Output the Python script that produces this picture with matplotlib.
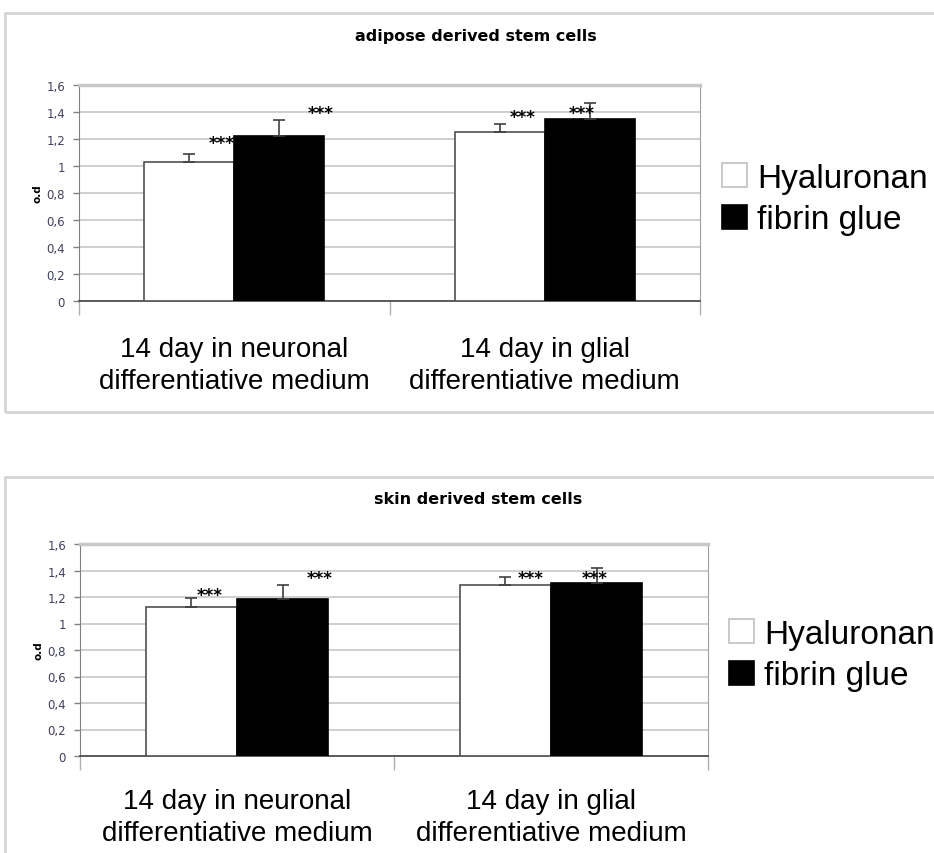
#!/usr/bin/env python3
# -*- coding: utf-8 -*-

import numpy as np
from matplotlib import pyplot as plt
from matplotlib.patches import Rectangle

"""
Optical density of stem cells grown on hyaluronan and fibrin glue scaffolds
"""

CATEGORIES = ["14 day in neuronal\ndifferentiative medium",
              "14 day in glial\ndifferentiative medium"]
SERIES = ["Hyaluronan", "fibrin glue"]
YTICKS = [0, 0.2, 0.4, 0.6, 0.8, 1, 1.2, 1.4, 1.6]
YTICK_LABELS = ["0", "0,2", "0,4", "0,6", "0,8", "1", "1,2", "1,4", "1,6"]

# adipose derived stem cells
adipose_hya = [1.03, 1.25]
adipose_hya_err = [0.06, 0.06]
adipose_fib = [1.225, 1.345]
adipose_fib_err = [0.115, 0.125]
# significance labels (x, y) in data units
adipose_stars = [(-0.04, 1.17), (0.277, 1.39), (0.93, 1.365), (1.12, 1.39)]

# skin derived stem cells
skin_hya = [1.125, 1.29]
skin_hya_err = [0.065, 0.06]
skin_fib = [1.185, 1.305]
skin_fib_err = [0.105, 0.115]
skin_stars = [(-0.086, 1.215), (0.264, 1.34), (0.936, 1.34), (1.14, 1.34)]

FONT = ["Liberation Sans", "DejaVu Sans"]
W, H = 934, 854


def frac(x0, y0, x1, y1):
    """pixel box (top-left origin) -> figure fraction rect"""
    return [x0 / W, 1 - y1 / H, (x1 - x0) / W, (y1 - y0) / H]


def panel(fig, rect, title, title_xy, hya, hya_err, fib, fib_err, stars, legend_xy, pad):
    ax = fig.add_axes(rect)
    x = np.arange(len(CATEGORIES))
    width = 0.29

    ax.bar(x - width / 2, hya, width, color="white", edgecolor="#505050",
           linewidth=1.2, label=SERIES[0], zorder=3)
    ax.bar(x + width / 2, fib, width, color="black", edgecolor="black",
           linewidth=1.2, label=SERIES[1], zorder=3)
    ax.errorbar(x - width / 2, hya, yerr=[np.zeros(len(hya)), hya_err],
                fmt="none", ecolor="#404040", elinewidth=1.2, capsize=4, capthick=1.2, zorder=4)
    ax.errorbar(x + width / 2, fib, yerr=[np.zeros(len(fib)), fib_err],
                fmt="none", ecolor="#404040", elinewidth=1.2, capsize=4, capthick=1.2, zorder=4)

    for sx, sy in stars:
        ax.text(sx, sy, "***", ha="center", va="center", fontsize=12,
                fontweight="bold", family="DejaVu Sans", zorder=5)

    ax.set_xlim(-0.5, len(CATEGORIES) - 0.5)
    ax.set_ylim(0, 1.6)
    ax.set_yticks(YTICKS)
    ax.set_yticklabels(YTICK_LABELS, fontsize=8.5, color="#404060", family="DejaVu Sans")
    ax.tick_params(axis="y", length=4, width=1, color="#808080", pad=6)
    ax.yaxis.grid(True, color="#cccccc", linewidth=1.3, zorder=0)
    ax.set_axisbelow(True)

    ax.set_xticks(x)
    ax.set_xticklabels(CATEGORIES, fontsize=20, family=FONT, linespacing=1.3)
    ax.tick_params(axis="x", which="major", length=0, pad=pad)
    ax.set_xticks(np.arange(-0.5, len(CATEGORIES)), minor=True)
    ax.tick_params(axis="x", which="minor", length=10, width=1, color="#b0b0b0")

    ax.spines["top"].set_color("#c8c8c8")
    ax.spines["top"].set_linewidth(2.5)
    ax.spines["right"].set_color("#a0a0a0")
    ax.spines["left"].set_color("#808080")
    ax.spines["bottom"].set_color("#505050")
    ax.spines["bottom"].set_linewidth(1.3)

    ax.set_ylabel("o.d", fontsize=7.5, fontweight="bold", family="DejaVu Sans", labelpad=3)

    fig.text(title_xy[0], title_xy[1], title, ha="center", va="center", fontsize=11.5,
             fontweight="bold", family="DejaVu Sans")

    leg = ax.legend(loc="center left", bbox_to_anchor=legend_xy,
                    bbox_transform=fig.transFigure, frameon=False,
                    prop={"family": FONT, "size": 24}, handlelength=0.75,
                    handleheight=0.75, handletextpad=0.3, labelspacing=0.32,
                    borderpad=0, borderaxespad=0)
    leg.legend_handles[0].set_edgecolor("#c0c0c0")
    return ax


def main():
    fig = plt.figure(figsize=(W / 100, H / 100), dpi=100)

    # chart frames
    for r in (frac(5, 14, 1000, 413), frac(5, 478, 1000, 900)):
        fig.patches.append(Rectangle((r[0], r[1]), r[2], r[3], transform=fig.transFigure,
                                     fill=False, edgecolor="#d4d4d4", linewidth=2))

    panel(fig, frac(79, 86, 700, 302), "adipose derived stem cells", (476 / W, 1 - 37 / H),
          adipose_hya, adipose_hya_err, adipose_fib, adipose_fib_err, adipose_stars,
          (722 / W, 1 - 200 / H), 25)
    panel(fig, frac(80, 545, 708, 757), "skin derived stem cells", (478 / W, 1 - 500 / H),
          skin_hya, skin_hya_err, skin_fib, skin_fib_err, skin_stars,
          (729 / W, 1 - 656 / H), 23)

    fig.savefig("out.png", dpi=100)
    plt.close(fig)


if __name__ == "__main__":
    main()
